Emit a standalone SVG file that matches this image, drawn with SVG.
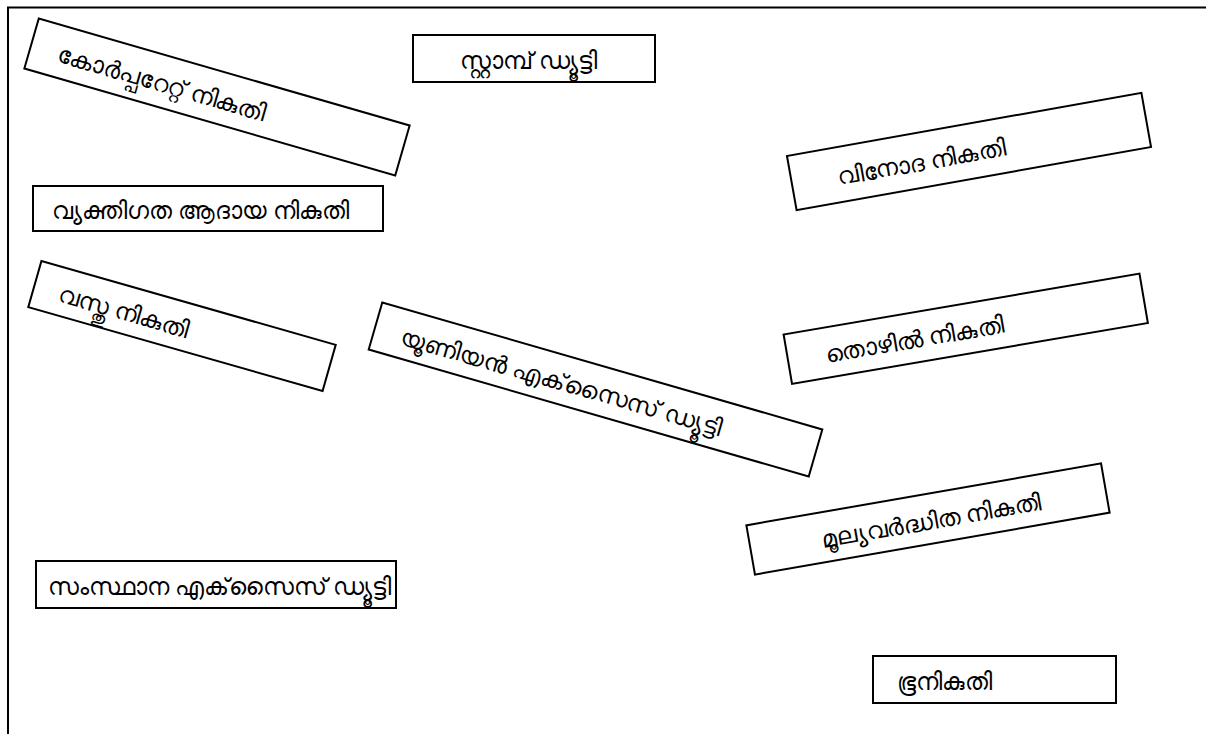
<svg xmlns="http://www.w3.org/2000/svg" width="1206" height="734" viewBox="0 0 1206 734">
<style>
.box{fill:#fff;stroke:#000;stroke-width:2}
.lbl{font-family:"Noto Sans","DejaVu Sans",sans-serif;font-size:24px;fill:#000;dominant-baseline:central}
</style>
<rect x="0" y="0" width="1206" height="734" fill="#fff"/>
<path d="M8,734 V7.5 H1206" fill="none" stroke="#000" stroke-width="2"/>
<g id="n-corporate" transform="translate(217,97) rotate(16.1)">
<rect class="box" x="-193" y="-26" width="386" height="52"/>
<text class="lbl" x="-165" y="1">കോർപ്പറേറ്റ് നികുതി</text>
</g>
<g id="n-stamp">
<rect class="box" x="413" y="35" width="242" height="47"/>
<text class="lbl" x="460" y="59">സ്റ്റാമ്പ് ഡ്യൂട്ടി</text>
</g>
<g id="n-entertainment" transform="translate(969,151.5) rotate(-10.1)">
<rect class="box" x="-180" y="-27.5" width="360" height="55"/>
<text class="lbl" x="-134" y="1">വിനോദ നികുതി</text>
</g>
<g id="n-income">
<rect class="box" x="33" y="186" width="350" height="45"/>
<text class="lbl" x="52" y="209">വ്യക്തിഗത ആദായ നികുതി</text>
</g>
<g id="n-property" transform="translate(182,326) rotate(15.9)">
<rect class="box" x="-153" y="-24" width="306" height="48"/>
<text class="lbl" x="-127" y="1">വസ്തു നികുതി</text>
</g>
<g id="n-union-excise" transform="translate(595.5,389.5) rotate(16.1)">
<rect class="box" x="-229" y="-24.5" width="458" height="49"/>
<text class="lbl" x="-201" y="1">യൂണിയൻ എക്‌സൈസ് ഡ്യൂട്ടി</text>
</g>
<g id="n-profession" transform="translate(965.75,328.75) rotate(-9.7)">
<rect class="box" x="-180.5" y="-25" width="361" height="50"/>
<text class="lbl" x="-143" y="1">തൊഴിൽ നികുതി</text>
</g>
<g id="n-vat" transform="translate(928,519) rotate(-9.9)">
<rect class="box" x="-180" y="-25" width="360" height="50"/>
<text class="lbl" x="-108" y="1">മൂല്യവർദ്ധിത നികുതി</text>
</g>
<g id="n-state-excise">
<rect class="box" x="36" y="561" width="360" height="47"/>
<text class="lbl" x="48" y="585">സംസ്ഥാന എക്‌സൈസ് ഡ്യൂട്ടി</text>
</g>
<g id="n-land">
<rect class="box" x="873" y="656" width="243" height="47"/>
<text class="lbl" x="897" y="680">ഭൂനികുതി</text>
</g>
<g id="connectors"></g>
</svg>
